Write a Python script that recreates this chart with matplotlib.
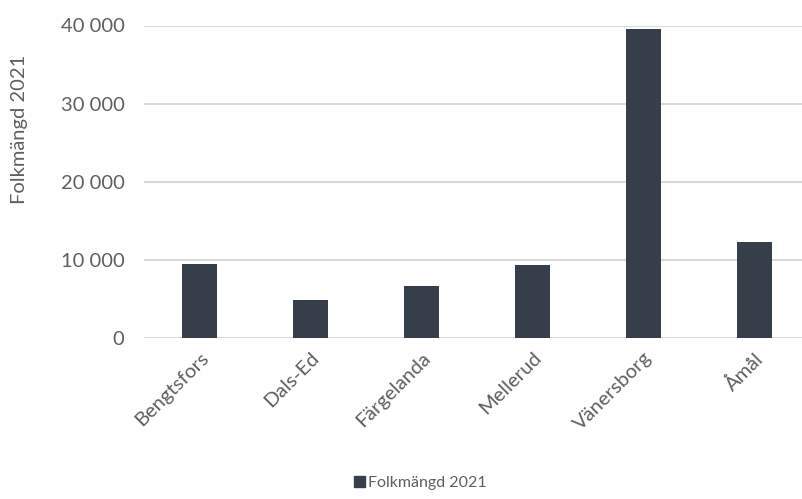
import matplotlib
matplotlib.use("Agg")
import matplotlib.pyplot as plt
from matplotlib.ticker import FuncFormatter
from matplotlib.patches import Patch

categories = ["Bengtsfors", "Dals-Ed", "Färgelanda", "Mellerud", "Vänersborg", "Åmål"]
values = [9430, 4830, 6620, 9310, 39600, 12330]
yticks = [0, 10000, 20000, 30000, 40000]
series_name = "Folkmängd 2021"

W, H = 803, 499
fig = plt.figure(figsize=(W / 100, H / 100), dpi=100)
plt.rcParams['font.family'] = ['Lato', 'DejaVu Sans']
txt = '#5f5f5f'
bar_color = '#353e49'

left, right = 144, 810
top, bottom = 25.5, 338
ax = fig.add_axes([left / W, 1 - bottom / H, (right - left) / W, (bottom - top) / H])
x = list(range(len(categories)))
ax.bar(x, values, width=0.315, color=bar_color, zorder=3)
ax.set_xlim(-0.5, len(categories) - 0.5)
ax.set_ylim(0, 40000)
ax.set_yticks(yticks)
ax.yaxis.set_major_formatter(FuncFormatter(lambda v, p: f"{int(v):,}".replace(",", " ")))
ax.grid(axis='y', color='#d9d9d9', linewidth=1.5, zorder=0)
for s in ax.spines.values():
    s.set_visible(False)
ax.tick_params(axis='both', length=0, labelsize=14.5, colors=txt)
ax.tick_params(axis='y', pad=14)
ax.set_xticks(x)
ax.set_xticklabels(categories, rotation=45, ha='right', rotation_mode='anchor', fontsize=14.5, color=txt)
ax.tick_params(axis='x', pad=8)

fig.text(20 / W, 1 - 129 / H, series_name, rotation=90, ha='center', va='center', fontsize=14.5, color=txt)

leg = fig.legend(handles=[Patch(color=bar_color, label=series_name)], loc='center',
                 bbox_to_anchor=(420 / W, 1 - 483 / H), frameon=False, fontsize=11.5,
                 handlelength=0.7, handleheight=0.7, handletextpad=0.2)
for t in leg.get_texts():
    t.set_color(txt)

fig.savefig("out.png", dpi=100)
